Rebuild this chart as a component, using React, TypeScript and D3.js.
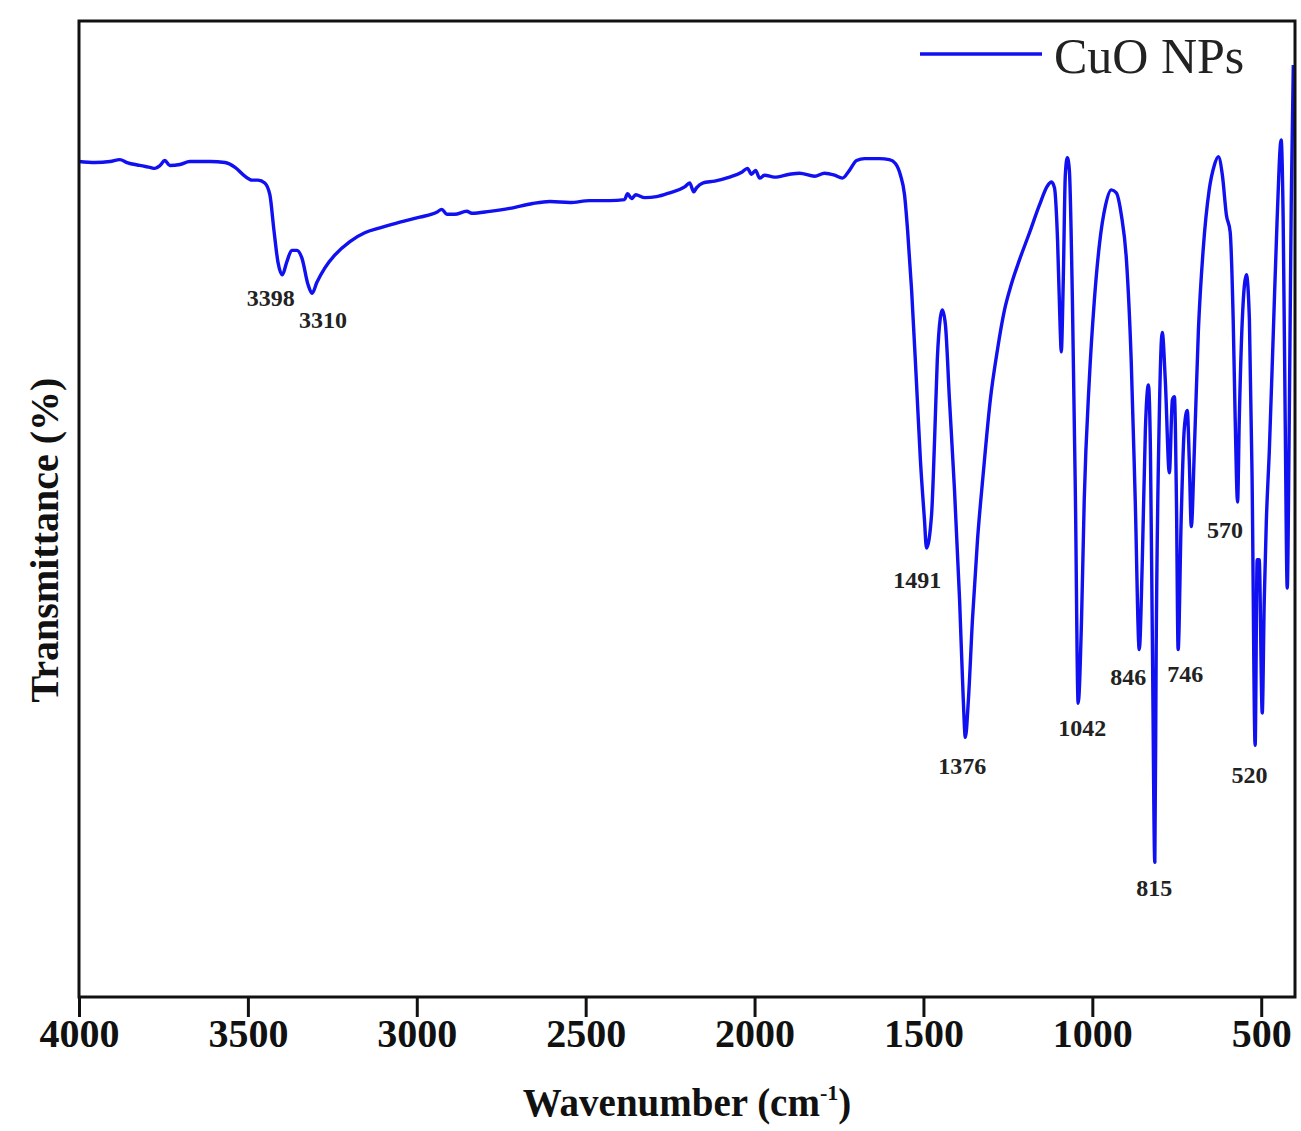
import { useEffect, useRef } from 'react'
import * as d3 from 'd3'

// FTIR spectrum (wavenumber in cm-1, transmittance in arbitrary %)
const wavenumber = [
  4000, 3953, 3908, 3879, 3858, 3820, 3790, 3775, 3760, 3746, 3731, 3701, 3672, 3642, 3612, 3568,
  3538, 3509, 3488, 3470, 3450, 3435, 3423, 3411, 3398, 3385, 3370, 3355, 3340, 3322, 3310, 3296,
  3272, 3243, 3198, 3154, 3109, 3050, 2991, 2941, 2926, 2911, 2888, 2852, 2837, 2784, 2725, 2657,
  2606, 2547, 2488, 2429, 2385, 2376, 2364, 2352, 2325, 2290, 2251, 2207, 2192, 2180, 2172, 2154,
  2118, 2074, 2038, 2021, 2009, 1997, 1985, 1970, 1941, 1896, 1867, 1822, 1793, 1763, 1740, 1719,
  1698, 1674, 1630, 1601, 1583, 1568, 1556, 1547, 1535, 1521, 1509, 1497, 1491, 1476, 1467, 1459,
  1450, 1444, 1435, 1423, 1408, 1393, 1382, 1376, 1367, 1355, 1340, 1322, 1302, 1281, 1260, 1240,
  1216, 1186, 1157, 1133, 1121, 1112, 1103, 1095, 1092, 1086, 1080, 1074, 1068, 1059, 1050, 1042,
  1032, 1024, 1009, 994, 979, 961, 944, 929, 914, 899, 885, 873, 861, 852, 843, 834,
  828, 822, 815, 811, 802, 793, 784, 772, 763, 757, 751, 746, 737, 728, 719, 713,
  707, 698, 686, 672, 654, 639, 627, 615, 603, 592, 583, 577, 570, 565, 556, 544,
  535, 527, 518, 512, 506, 497, 491, 485, 476, 464, 453, 441, 435, 429, 423, 417,
  411, 405,
]

const transmittance = [
  85.6, 85.5, 85.6, 85.8, 85.5, 85.2, 85.0, 84.9, 85.2, 85.7, 85.2, 85.3, 85.6, 85.6, 85.6, 85.5,
  85.0, 84.1, 83.7, 83.7, 83.4, 82.2, 78.6, 75.3, 74.0, 75.3, 76.5, 76.5, 75.7, 73.0, 72.1, 73.2,
  74.7, 76.0, 77.4, 78.3, 78.8, 79.4, 79.9, 80.4, 80.7, 80.2, 80.2, 80.5, 80.3, 80.5, 80.8, 81.3,
  81.5, 81.4, 81.6, 81.6, 81.7, 82.3, 81.8, 82.2, 81.9, 82.0, 82.4, 83.0, 83.4, 82.5, 82.9, 83.4,
  83.6, 84.0, 84.5, 84.9, 84.3, 84.7, 83.9, 84.2, 84.0, 84.3, 84.4, 84.1, 84.4, 84.2, 83.9, 84.7,
  85.7, 85.9, 85.9, 85.8, 85.4, 84.2, 82.2, 78.6, 72.4, 63.2, 55.0, 48.9, 46.0, 49.4, 57.1, 65.3,
  69.6, 70.4, 68.9, 61.2, 51.9, 40.7, 30.4, 26.6, 30.4, 38.6, 46.8, 54.0, 61.2, 66.3, 70.4, 73.0,
  75.5, 78.3, 81.1, 83.1, 83.5, 82.9, 77.6, 68.3, 66.1, 73.5, 84.2, 86.0, 84.7, 71.4, 50.9, 30.1,
  38.6, 50.9, 63.2, 71.4, 77.1, 81.1, 82.7, 82.4, 80.1, 75.5, 65.3, 50.9, 35.6, 44.8, 58.1, 62.7,
  56.0, 35.6, 13.8, 35.6, 59.1, 68.1, 63.2, 53.7, 61.2, 61.5, 50.9, 35.6, 48.9, 58.1, 60.1, 55.0,
  48.2, 56.0, 68.3, 76.5, 82.7, 85.2, 86.1, 84.2, 80.1, 78.4, 69.4, 59.1, 50.7, 59.1, 69.4, 74.0,
  69.4, 53.0, 25.8, 44.8, 44.8, 29.1, 40.7, 48.6, 56.0, 68.3, 79.6, 87.8, 79.6, 59.1, 41.9, 59.1,
  81.7, 95.5,
]

const xTicks = [4000, 3500, 3000, 2500, 2000, 1500, 1000, 500]

// peak annotations: text and the point (wavenumber, transmittance) where the label sits
const peakText = ['3398', '3310', '1491', '1376', '1042', '846', '815', '746', '570', '520']
const peakWn = [3432, 3278, 1518, 1385, 1030, 894, 817, 725, 607, 535]
const peakT = [70.8, 68.5, 41.9, 22.8, 26.7, 32.0, 10.3, 32.3, 47.0, 21.9]

const seriesName = 'CuO NPs'

export default function App() {
  const svgRef = useRef<SVGSVGElement | null>(null)

  useEffect(() => {
    if (!svgRef.current) return
    const svg = d3.select(svgRef.current)
    svg.selectAll('*').remove()

    const W = 1301
    const H = 1131
    const margin = { top: 21, right: 6, bottom: 134, left: 79 }
    const serif = '"Liberation Serif", "Times New Roman", serif'
    const blue = '#1010f0'

    const x = d3.scaleLinear().domain([4000, 400]).range([margin.left, W - margin.right])
    const y = d3.scaleLinear().domain([0, 100]).range([H - margin.bottom, margin.top])

    const points = wavenumber.map((w, i) => [w, transmittance[i]] as [number, number])

    // spectrum
    const line = d3.line<[number, number]>()
      .x(d => x(d[0]))
      .y(d => y(d[1]))
      .curve(d3.curveMonotoneX)

    svg.append('path')
      .datum(points)
      .attr('d', line)
      .attr('fill', 'none')
      .attr('stroke', blue)
      .attr('stroke-width', 3.4)
      .attr('stroke-linejoin', 'round')

    // frame
    svg.append('rect')
      .attr('x', x(4000))
      .attr('y', y(100))
      .attr('width', x(400) - x(4000))
      .attr('height', y(0) - y(100))
      .attr('fill', 'none')
      .attr('stroke', '#111')
      .attr('stroke-width', 3)

    // bottom axis
    const xAxis = svg.append('g')
      .attr('transform', `translate(0,${y(0)})`)
      .call(d3.axisBottom(x).tickValues(xTicks).tickSize(20).tickPadding(2).tickFormat(d3.format('d')))
    xAxis.select('.domain').remove()
    xAxis.selectAll('line').attr('stroke', '#111').attr('stroke-width', 3)
    xAxis.selectAll('text')
      .attr('fill', '#111')
      .style('font-family', serif)
      .style('font-weight', 'bold')
      .style('font-size', '40px')

    // axis titles
    const xt = svg.append('text')
      .attr('x', (x(4000) + x(400)) / 2)
      .attr('y', 1116)
      .attr('text-anchor', 'middle')
      .attr('fill', '#111')
      .style('font-family', serif)
      .style('font-weight', 'bold')
      .style('font-size', '39px')
    xt.append('tspan').text('Wavenumber (cm')
    xt.append('tspan').attr('dy', -16).style('font-size', '22px').text('-1')
    xt.append('tspan').attr('dy', 16).text(')')

    svg.append('text')
      .attr('transform', `translate(58,540) rotate(-90)`)
      .attr('text-anchor', 'middle')
      .attr('fill', '#111')
      .style('font-family', serif)
      .style('font-weight', 'bold')
      .style('font-size', '40px')
      .text('Transmittance (%)')

    // peak labels
    svg.selectAll('text.peak')
      .data(peakText)
      .enter()
      .append('text')
      .attr('class', 'peak')
      .attr('x', (d, i) => x(peakWn[i]))
      .attr('y', (d, i) => y(peakT[i]))
      .attr('text-anchor', 'middle')
      .attr('fill', '#222')
      .style('font-family', serif)
      .style('font-weight', 'bold')
      .style('font-size', '24px')
      .text(d => d)

    // legend
    svg.append('line')
      .attr('x1', 920).attr('x2', 1042)
      .attr('y1', 54).attr('y2', 54)
      .attr('stroke', blue)
      .attr('stroke-width', 3.4)
    svg.append('text')
      .attr('x', 1054)
      .attr('y', 73)
      .attr('fill', '#222')
      .style('font-family', serif)
      .style('font-size', '50px')
      .text(seriesName)
  }, [])

  return (
    <svg
      ref={svgRef}
      width={1301}
      height={1131}
      style={{ position: 'absolute', left: 0, top: 0, background: '#fff' }}
    />
  )
}
